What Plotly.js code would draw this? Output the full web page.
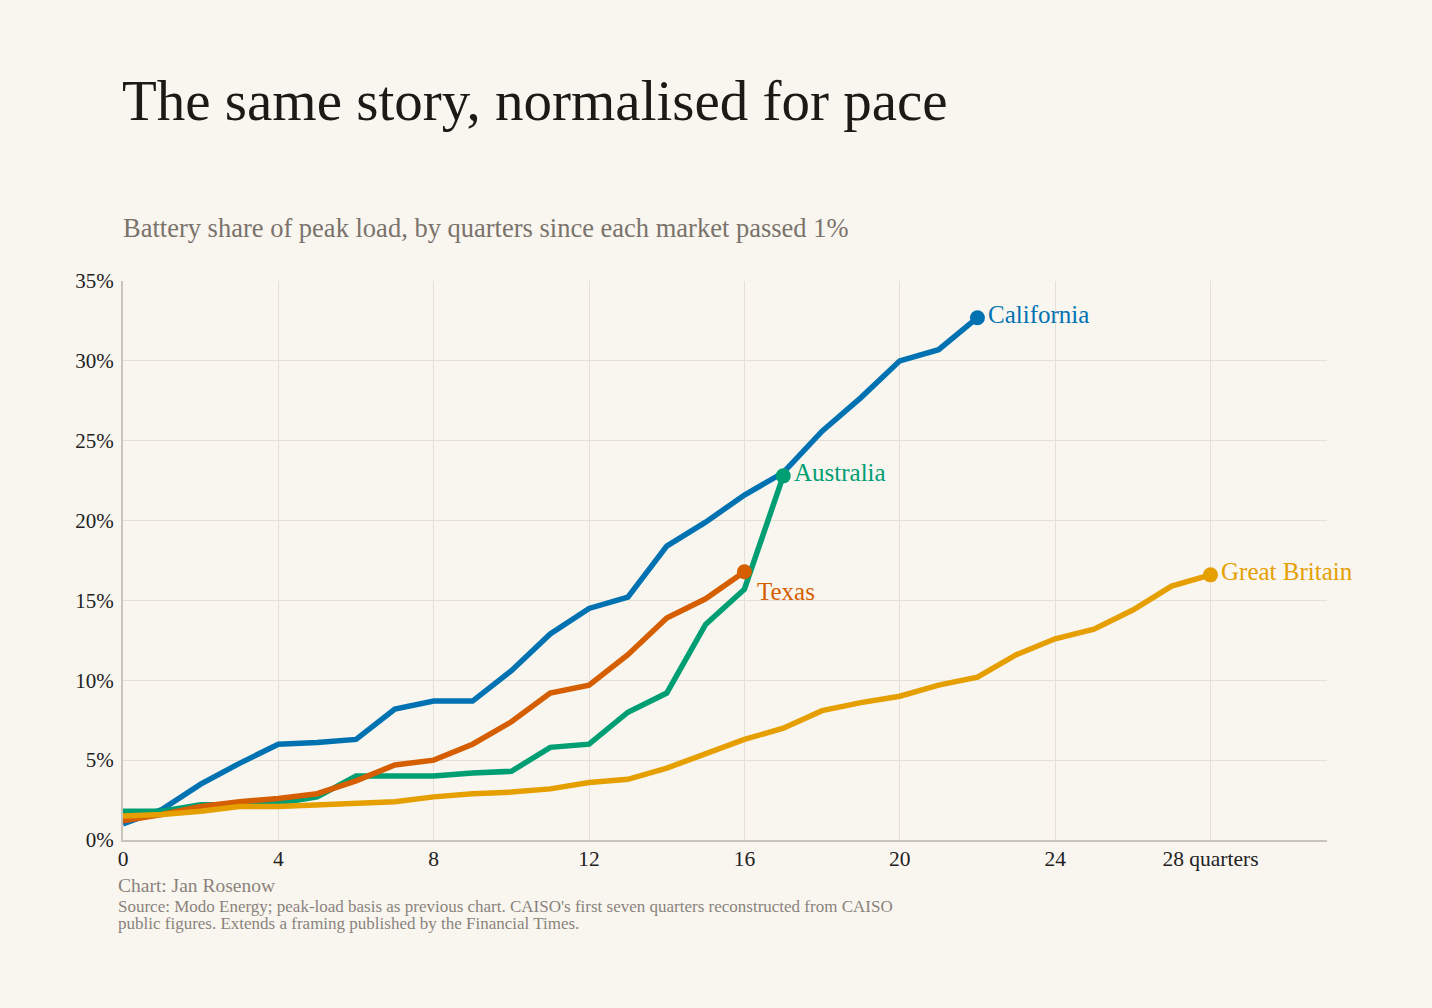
<!DOCTYPE html>
<html>
<head>
<meta charset="utf-8">
<script src="https://cdn.plot.ly/plotly-3.0.1.min.js"></script>
<style>
  html, body { margin: 0; padding: 0; background: #f9f6f0; }
  #chart { width: 1432px; height: 1008px; }
</style>
</head>
<body>
<div id="chart"></div>
<script>
const quarters = Array.from({ length: 29 }, (_, i) => i);

const california = [1.0, 1.9, 3.5, 4.8, 6.0, 6.1, 6.3, 8.2, 8.7, 8.7, 10.6, 12.9, 14.5, 15.2,
  18.4, 19.9, 21.6, 23.0, 25.6, 27.7, 30.0, 30.7, 32.7];
const australia = [1.8, 1.8, 2.2, 2.2, 2.3, 2.7, 4.0, 4.0, 4.0, 4.2, 4.3, 5.8, 6.0, 8.0,
  9.2, 13.5, 15.7, 22.8];
const texas = [1.2, 1.6, 2.1, 2.4, 2.6, 2.9, 3.7, 4.7, 5.0, 6.0, 7.4, 9.2, 9.7, 11.6,
  13.9, 15.1, 16.8];
const britain = [1.5, 1.6, 1.8, 2.1, 2.1, 2.2, 2.3, 2.4, 2.7, 2.9, 3.0, 3.2, 3.6, 3.8,
  4.5, 5.4, 6.3, 7.0, 8.1, 8.6, 9.0, 9.7, 10.2, 11.6, 12.6, 13.2, 14.4, 15.9, 16.6];

// drawn bottom to top
const series = [
  { name: 'California', y: california, color: '#0072B2' },
  { name: 'Australia', y: australia, color: '#009E73' },
  { name: 'Texas', y: texas, color: '#D55E00' },
  { name: 'Great Britain', y: britain, color: '#E69F00' },
];

const xTicks = [0, 4, 8, 12, 16, 20, 24, 28];
const xTickText = ['0', '4', '8', '12', '16', '20', '24', '28 quarters'];
const yTicks = [0, 5, 10, 15, 20, 25, 30, 35];
const yTickText = yTicks.map(v => v + '%');

const serif = '"Liberation Serif", "DejaVu Serif", serif';

const lines = series.map(s => ({
  x: quarters.slice(0, s.y.length), y: s.y,
  type: 'scatter', mode: 'lines',
  line: { color: s.color, width: 5.5 },
  hoverinfo: 'skip',
}));
const dots = series.map(s => ({
  x: [s.y.length - 1], y: [s.y[s.y.length - 1]],
  type: 'scatter', mode: 'markers',
  marker: { color: s.color, size: 15 },
  hoverinfo: 'skip',
}));

// end labels, Texas sits below-right of its dot
const labels = series.map(s => {
  const last = s.y.length - 1;
  const isTexas = s.name === 'Texas';
  return {
    x: last, y: s.y[last], xref: 'x', yref: 'y',
    text: s.name, showarrow: false,
    xanchor: 'left', yanchor: 'middle',
    xshift: isTexas ? 11 : 9, yshift: isTexas ? -20 : 3,
    font: { family: serif, size: 25, color: s.color },
  };
});

const footFont = { family: serif, size: 17, color: '#8a837c' };
const notes = [
  {
    text: 'Battery share of peak load, by quarters since each market passed 1%',
    xref: 'paper', yref: 'paper', x: -0.002, y: 1.095, xanchor: 'left', yanchor: 'middle',
    showarrow: false, font: { family: serif, size: 26.5, color: '#7a736c' },
  },
  {
    text: 'Chart: Jan Rosenow',
    xref: 'paper', yref: 'paper', x: -0.006, y: -0.081, xanchor: 'left', yanchor: 'middle',
    showarrow: false, font: { family: serif, size: 19.5, color: '#8a837c' },
  },
  {
    text: "Source: Modo Energy; peak-load basis as previous chart. CAISO's first seven quarters reconstructed from CAISO",
    xref: 'paper', yref: 'paper', x: -0.006, y: -0.1181, xanchor: 'left', yanchor: 'middle',
    showarrow: false, font: footFont,
  },
  {
    text: 'public figures. Extends a framing published by the Financial Times.',
    xref: 'paper', yref: 'paper', x: -0.006, y: -0.1485, xanchor: 'left', yanchor: 'middle',
    showarrow: false, font: footFont,
  },
];

Plotly.newPlot('chart', lines.concat(dots), {
  width: 1432, height: 1008,
  paper_bgcolor: '#f9f6f0',
  plot_bgcolor: '#f9f6f0',
  margin: { t: 281, r: 105, b: 168, l: 123 },
  showlegend: false,
  title: {
    text: 'The same story, normalised for pace',
    x: 122 / 1432, xanchor: 'left', xref: 'container',
    y: 1 - 100 / 1008, yanchor: 'middle', yref: 'container',
    font: { family: serif, size: 57, color: '#1c1a17' },
  },
  xaxis: {
    range: [0, 31],
    tickvals: xTicks, ticktext: xTickText,
    showgrid: true, gridcolor: '#e6dfd8', gridwidth: 1,
    zeroline: false,
    showline: true, linecolor: '#cbc4bc', linewidth: 2,
    ticks: '', ticklabelstandoff: -2,
    tickfont: { family: serif, size: 21.5, color: '#222' },
    fixedrange: true,
  },
  yaxis: {
    range: [0, 35],
    tickvals: yTicks, ticktext: yTickText,
    showgrid: true, gridcolor: '#e6dfd8', gridwidth: 1,
    zeroline: false,
    showline: true, linecolor: '#cbc4bc', linewidth: 2,
    ticks: '', ticklabelstandoff: 3,
    tickfont: { family: serif, size: 21, color: '#222' },
    fixedrange: true,
  },
  annotations: labels.concat(notes),
}, { displayModeBar: false, staticPlot: true });
</script>
</body>
</html>
